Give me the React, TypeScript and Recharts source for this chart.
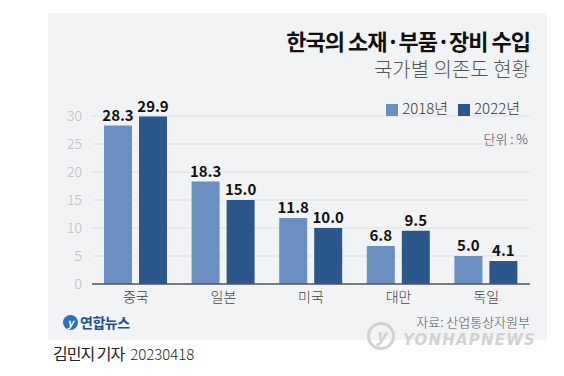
import { BarChart, Bar, XAxis, YAxis, CartesianGrid, Legend, LabelList } from 'recharts';

const COUNTRIES = ['중국', '일본', '미국', '대만', '독일'];
const VALUES_2018 = [28.3, 18.3, 11.8, 6.8, 5.0];
const VALUES_2022 = [29.9, 15.0, 10.0, 9.5, 4.1];
const Y_TICKS = [0, 5, 10, 15, 20, 25, 30];

const FONT = '"Noto Sans CJK KR", "Noto Sans", sans-serif';
const COLOR_2018 = '#6b8fc1';
const COLOR_2022 = '#2c578a';

const chartData = COUNTRIES.map((country, i) => ({
  country,
  y2018: VALUES_2018[i],
  y2022: VALUES_2022[i],
}));

const fmt = (v: any) => Number(v).toFixed(1);

export default function App() {
  return (
    <div
      style={{
        position: 'fixed',
        left: 0,
        top: 0,
        width: 564,
        height: 376,
        background: '#fff',
        fontFamily: FONT,
        overflow: 'hidden',
      }}
    >
      {/* gray panel */}
      <div
        style={{ position: 'absolute', left: 48, top: 13, width: 499, height: 327, background: '#f2f3f4' }}
      />

      <div
        style={{
          position: 'absolute',
          right: 34,
          top: 29,
          fontSize: 22,
          lineHeight: 1,
          fontWeight: 700,
          letterSpacing: -1,
          color: '#111',
          whiteSpace: 'nowrap',
        }}
      >
        한국의 소재·부품·장비 수입
      </div>
      <div
        style={{
          position: 'absolute',
          right: 34,
          top: 59,
          fontSize: 20,
          lineHeight: 1,
          fontWeight: 300,
          color: '#555',
          whiteSpace: 'nowrap',
        }}
      >
        국가별 의존도 현황
      </div>

      <div style={{ position: 'absolute', left: 0, top: 0 }}>
        <BarChart
          width={564}
          height={376}
          data={chartData}
          margin={{ top: 92, right: 34, bottom: 62, left: 0 }}
          barSize={28}
          barGap={7}
        >
          <CartesianGrid vertical={false} stroke="#e0e1e3" />
          <XAxis
            dataKey="country"
            axisLine={{ stroke: '#555', strokeWidth: 1.5 }}
            tickLine={false}
            height={30}
            tick={{ fill: '#444', fontSize: 14, fontWeight: 300, fontFamily: FONT }}
          />
          <YAxis
            width={92}
            domain={[0, 30]}
            ticks={Y_TICKS}
            axisLine={false}
            tickLine={false}
            tickMargin={4}
            tick={{ fill: '#bdbec0', fontSize: 14, fontWeight: 300, fontFamily: FONT }}
          />
          <Legend
            verticalAlign="top"
            align="right"
            iconType="square"
            iconSize={12}
            wrapperStyle={{ top: 95, right: 34, left: 'auto', width: 'auto', fontFamily: FONT }}
            formatter={(value: any) => (
              <span style={{ color: '#333', fontSize: 15, fontWeight: 300 }}>{value}</span>
            )}
          />
          <Bar dataKey="y2018" name="2018년" fill={COLOR_2018} isAnimationActive={false}>
            <LabelList
              dataKey="y2018"
              position="top"
              formatter={fmt}
              style={{ fill: '#111', fontSize: 15, fontWeight: 700, fontFamily: FONT }}
            />
          </Bar>
          <Bar dataKey="y2022" name="2022년" fill={COLOR_2022} isAnimationActive={false}>
            <LabelList
              dataKey="y2022"
              position="top"
              formatter={fmt}
              style={{ fill: '#111', fontSize: 15, fontWeight: 700, fontFamily: FONT }}
            />
          </Bar>
        </BarChart>
      </div>

      <div
        style={{
          position: 'absolute',
          right: 36,
          top: 132,
          fontSize: 13,
          lineHeight: 1,
          fontWeight: 300,
          color: '#444',
        }}
      >
        단위 : %
      </div>

      {/* Yonhap logo */}
      <div
        style={{
          position: 'absolute',
          left: 63,
          top: 315,
          width: 15,
          height: 15,
          borderRadius: '50%',
          background: '#2a6fc4',
          color: '#fff',
          fontSize: 11,
          fontStyle: 'italic',
          fontWeight: 700,
          lineHeight: '15px',
          textAlign: 'center',
        }}
      >
        y
      </div>
      <div
        style={{
          position: 'absolute',
          left: 80,
          top: 315,
          fontSize: 14,
          lineHeight: 1,
          fontWeight: 700,
          color: '#1d4f9c',
          letterSpacing: -0.5,
        }}
      >
        연합뉴스
      </div>

      <div
        style={{
          position: 'absolute',
          right: 34,
          top: 315,
          fontSize: 13,
          lineHeight: 1,
          fontWeight: 300,
          color: '#555',
        }}
      >
        자료: 산업통상자원부
      </div>

      {/* watermark */}
      <div
        style={{
          position: 'absolute',
          left: 367,
          top: 322,
          width: 28,
          height: 28,
          borderRadius: '50%',
          border: '3px solid #d2d2d2',
          boxSizing: 'border-box',
          color: '#d2d2d2',
          fontSize: 17,
          fontWeight: 900,
          fontStyle: 'italic',
          lineHeight: '20px',
          textAlign: 'center',
        }}
      >
        y
      </div>
      <div
        style={{
          position: 'absolute',
          left: 403,
          top: 333,
          fontSize: 15,
          lineHeight: 1,
          fontWeight: 900,
          fontStyle: 'italic',
          fontFamily: '"DejaVu Sans", sans-serif',
          color: '#d2d2d2',
          letterSpacing: 1.2,
          whiteSpace: 'nowrap',
        }}
      >
        YONHAPNEWS
      </div>

      <div
        style={{
          position: 'absolute',
          left: 53,
          top: 345,
          fontSize: 15,
          lineHeight: 1,
          color: '#222',
          whiteSpace: 'nowrap',
        }}
      >
        <span style={{ fontSize: 16, letterSpacing: -1 }}>김민지 기자</span>
        <span style={{ marginLeft: 6, fontWeight: 300 }}>20230418</span>
      </div>
    </div>
  );
}
